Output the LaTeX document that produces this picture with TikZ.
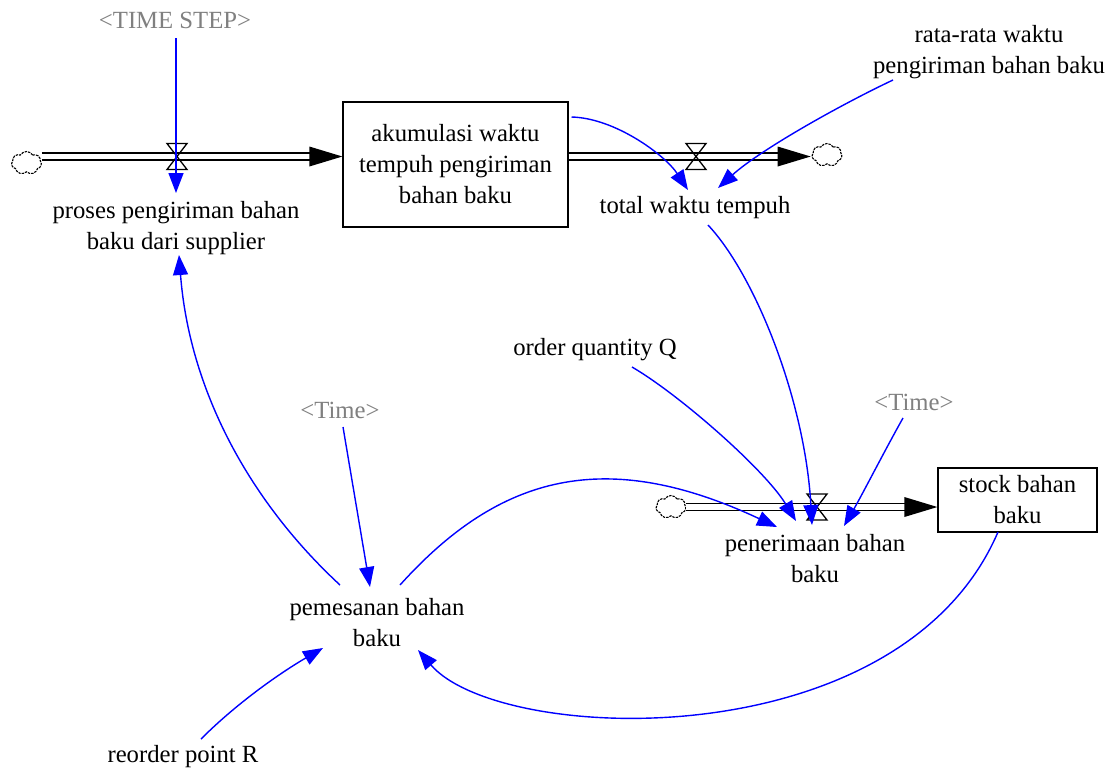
\documentclass[tikz,border=0pt]{standalone}
\usepackage{fontspec}
\setmainfont{LiberationSerif}[Extension=.ttf,UprightFont=*-Regular,BoldFont=*-Bold,ItalicFont=*-Italic,BoldItalicFont=*-BoldItalic]
\usetikzlibrary{arrows.meta,shapes.symbols,calc}
\definecolor{shadowgray}{RGB}{128,128,128}
\tikzset{pics/valve/.style={code={\draw[line width=0.65pt] (-10,-13) -- (10,-13) -- (-10,13) -- (10,13) -- cycle;}}}
\begin{document}
\begin{tikzpicture}[x=0.5pt,y=-0.5pt,
  every node/.style={font=\rmfamily\fontsize{12.35}{15.5}\selectfont, align=center, inner sep=0pt},
  shadowvar/.style={text=shadowgray},
  stockbox/.style={draw, line width=0.65pt, inner sep=0pt},
  link/.style={draw=blue, line width=0.7pt, -{Triangle[length=10pt,width=7.5pt]}},
  pipe/.style={draw=black, line width=0.65pt, double=white, double distance=2.85pt},
  cloudshape/.style={cloud, cloud puffs=7, cloud puff arc=120, aspect=1.3, draw=black, dash pattern=on 1.2pt off 0.5pt, line width=0.55pt, minimum width=15pt, minimum height=11.5pt, inner sep=0pt},
]
\fill[white] (0,0) rectangle (1109,773);
\useasboundingbox (0,0) rectangle (1109,773);

% stocks
\node[stockbox, minimum width=112.5pt, minimum height=62.5pt] (akum) at (455.5,164.5) {akumulasi waktu\\tempuh pengiriman\\bahan baku};
\node[stockbox, minimum width=79.5pt, minimum height=32pt] (stock) at (1017.5,500) {stock bahan\\baku};

% clouds
\node[cloudshape] (c1) at (26.5,163) {};
\node[cloudshape] (c2) at (827,155) {};
\node[cloudshape] (c3) at (671,507) {};

% valves
\coordinate (v1) at (177,156.5);
\coordinate (v2) at (696,156.5);
\coordinate (v3) at (817,507);

% pipes
\draw[pipe] (c1.east |- v1) -- ($(akum.west |- v1)+(-30,0)$);
\fill ($(akum.west |- v1)+(-33,-10)$) -- (akum.west |- v1) -- ($(akum.west |- v1)+(-33,10)$) -- cycle;
\draw[pipe] (akum.east |- v2) -- ($(c2.west |- v2)+(-30,0)$);
\fill ($(c2.west |- v2)+(-34,-10)$) -- ($(c2.west |- v2)+(-1,0)$) -- ($(c2.west |- v2)+(-34,10)$) -- cycle;
\draw[pipe] (c3.east |- v3) -- ($(stock.west |- v3)+(-30,0)$);
\fill ($(stock.west |- v3)+(-33,-10)$) -- (stock.west |- v3) -- ($(stock.west |- v3)+(-33,10)$) -- cycle;

\pic at (v1) {valve};
\pic at (v2) {valve};
\pic at (v3) {valve};

% variables
\node[shadowvar] (ts) at (175,20) {<TIME STEP>};
\node (proses) at (176,228) {proses pengiriman bahan\\baku dari supplier};
\node (tw) at (695,208) {total waktu tempuh};
\node (rr) at (989,52) {rata-rata waktu\\pengiriman bahan baku};
\node (oq) at (595,350) {order quantity Q};
\node[shadowvar] (t2) at (914,402) {<Time>};
\node (pen) at (815,559) {penerimaan bahan\\baku};
\node[shadowvar] (t1) at (340,410) {<Time>};
\node (pem) at (377,623) {pemesanan bahan\\baku};
\node (rp) at (183,757) {reorder point R};

% links
\draw[link] ($(ts)+(1,18)$) -- ($(proses)+(0,-35)$);
\draw[link] ($(akum)+(116,-47.5)$) .. controls (615,118) and (665,155) .. ($(tw)+(-7,-18)$);
\draw[link] ($(rr)+(-96,28)$) .. controls (840,105) and (760,150) .. ($(tw)+(23,-20)$);
\draw[link] ($(tw)+(13,17)$) .. controls (755,275) and (805,400) .. ($(pen)+(-3,-34)$);
\draw[link] ($(oq)+(37,17)$) .. controls (680,395) and (765,470) .. ($(pen)+(-19,-38)$);
\draw[link] ($(t2)+(-11,16)$) .. controls (885,450) and (862,495) .. ($(pen)+(29,-33)$);
\draw[link] ($(t1)+(3,17)$) -- ($(pem)+(-7,-36)$);
\draw[link] ($(pem)+(23,-38)$) .. controls (500,474) and (606,447) .. ($(pen)+(-38,-32)$);
\draw[link] ($(pem)+(-37,-38)$) .. controls (245,497) and (189,385) .. ($(proses)+(3,27)$);
\draw[link] ($(stock)+(-19.5,32)$) .. controls (900,760) and (500,745) .. ($(pem)+(41,27)$);
\draw[link] ($(rp)+(18,-18)$) .. controls (240,700) and (285,670) .. ($(pem)+(-54,25)$);
\end{tikzpicture}
\end{document}
